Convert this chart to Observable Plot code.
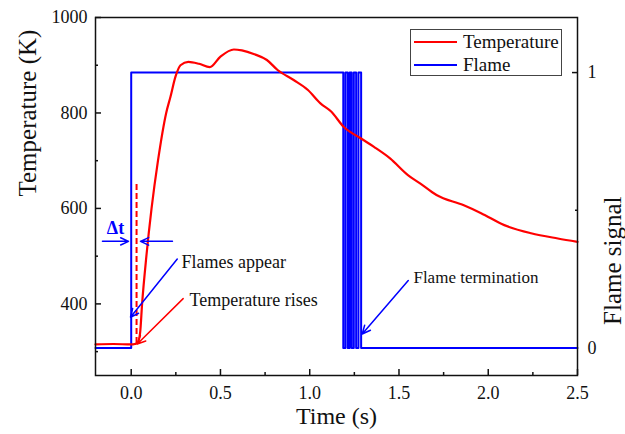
<!DOCTYPE html>
<html>
<head>
<meta charset="utf-8">
<script src="https://cdn.jsdelivr.net/npm/d3@7"></script>
<script src="https://cdn.jsdelivr.net/npm/@observablehq/plot@0.6"></script>
<style>
  body { margin: 0; background: #fff; }
  #wrap { position: relative; width: 625px; height: 434px; font-family: "Liberation Serif", "Times New Roman", serif; }
  #wrap svg, #wrap svg text { font-family: "Liberation Serif", "Times New Roman", serif !important; }
  #legend { position: absolute; left: 410px; top: 29px; width: 152px; height: 47px; border: 1px solid #444; background: #fff; box-sizing: border-box; }
  .lg { position: absolute; left: 0; height: 22px; display: flex; align-items: center; font-size: 19px; color: #111; }
  .lg span.sw { display: inline-block; width: 43px; height: 0; border-top: 2px solid; margin-left: 3px; margin-right: 6px; }
</style>
</head>
<body>
<div id="wrap"></div>
<script>
// ---- data ----
const tempTime = [-0.2, -0.1, 0, 0.02, 0.035, 0.05, 0.061, 0.085, 0.114, 0.15, 0.196, 0.22, 0.248, 0.276, 0.32, 0.38, 0.44, 0.5, 0.575, 0.62, 0.69, 0.76, 0.82, 0.91, 0.99, 1.06, 1.12, 1.19, 1.285, 1.36, 1.45, 1.55, 1.62, 1.71, 1.86, 1.96, 2.09, 2.24, 2.39, 2.5];
const tempK = [315, 316, 315, 316, 318, 340, 400, 500, 600, 700, 800, 834, 876, 900, 907, 903, 896, 918, 933, 931, 923, 911, 890, 869, 848, 820, 803, 771, 747, 729, 705, 670, 652, 628, 607, 590, 565, 548, 537, 530];

const flameTime = [-0.2, 0, 1.188, 1.20, 1.213, 1.224, 1.235, 1.247, 1.26, 1.273, 1.288, 2.5];
const flameValue = [0, 1, 0, 1, 0, 1, 0, 1, 0, 1, 0, 0];

const xMajorTicks = [0, 0.5, 1.0, 1.5, 2.0, 2.5];
const xMinorTicks = [0.25, 0.75, 1.25, 1.75, 2.25];
const yMajorTicks = [400, 600, 800, 1000];
const yMinorTicks = [300, 500, 700, 900];
const flameMajorTicks = [0, 1];
const flameMinorTicks = [0.5];

// annotations
const dashedT = [0.03];
const dashedRange = [317, 654];
const arrowX1 = [-0.161, 0.231, 0.258, 0.291, 1.552];
const arrowY1 = [531, 531, 494, 411, 449];
const arrowX2 = [-0.015, 0.052, -0.004, 0.034, 1.294];
const arrowY2 = [531, 531, 372, 316, 337];
const arrowColor = ["blue", "blue", "blue", "red", "blue"];
const noteText = ["Flames appear", "Temperature rises", "Flame termination"];
const noteX = [0.282, 0.327, 1.581];
const noteY = [487, 407, 455];
const noteSize = [18, 18, 17];

// ---- build ----
const RED = "#ff0000", BLUE = "#0000ff";
const SERIF = "'Liberation Serif', 'Times New Roman', serif";
const yDomain = [250, 1000];
const fDomain = [-0.1, 1.2];
const fToT = f => yDomain[0] + (f - fDomain[0]) / (fDomain[1] - fDomain[0]) * (yDomain[1] - yDomain[0]);

const temp = tempTime.map((t, i) => ({t, T: tempK[i]}));
const flame = flameTime.map((t, i) => ({t, T: fToT(flameValue[i])}));
const arrows = arrowX1.map((x, i) => ({x1: x, y1: arrowY1[i], x2: arrowX2[i], y2: arrowY2[i], c: arrowColor[i] === "red" ? RED : BLUE}));
const notes = noteText.map((s, i) => ({s, x: noteX[i], y: noteY[i], fs: noteSize[i]}));

const fmt1 = d3.format(".1f");
const axisStyle = {fontSize: 18, strokeWidth: 1.5, fill: "#111", fontFamily: SERIF};

const chart = Plot.plot({
  width: 625,
  height: 434,
  marginLeft: 95,
  marginRight: 48,
  marginTop: 17,
  marginBottom: 59,
  style: {fontFamily: SERIF, background: "white", color: "#111"},
  x: {domain: [-0.2, 2.5]},
  y: {domain: yDomain},
  marks: [
    Plot.axisX({ticks: xMajorTicks, tickSize: -6, tickPadding: 17, tickFormat: fmt1, label: null, ...axisStyle}),
    Plot.axisX({ticks: xMinorTicks, tickSize: -3, tickFormat: () => "", label: null, strokeWidth: 1.5}),
    Plot.axisY({ticks: yMajorTicks, tickSize: -6, tickPadding: 14, tickFormat: d3.format("d"), label: null, ...axisStyle}),
    Plot.axisY({ticks: yMinorTicks, tickSize: -3, tickFormat: () => "", label: null, strokeWidth: 1.5}),
    Plot.axisY({anchor: "right", ticks: flameMajorTicks.map(fToT), tickSize: -6, tickPadding: 16,
      tickFormat: d => String(Math.round((d - yDomain[0]) / (yDomain[1] - yDomain[0]) * (fDomain[1] - fDomain[0]) + fDomain[0])),
      label: null, ...axisStyle}),
    Plot.axisY({anchor: "right", ticks: flameMinorTicks.map(fToT), tickSize: -3, tickFormat: () => "", label: null, strokeWidth: 1.5}),
    Plot.line(flame, {x: "t", y: "T", curve: "step-after", stroke: BLUE, strokeWidth: 2}),
    Plot.line(temp, {x: "t", y: "T", curve: "monotone-x", stroke: RED, strokeWidth: 2.2}),
    Plot.ruleX(dashedT, {y1: dashedRange[0], y2: dashedRange[1], stroke: RED, strokeWidth: 2, strokeDasharray: "6,3"}),
    Plot.arrow(arrows, {x1: "x1", y1: "y1", x2: "x2", y2: "y2", stroke: "c", strokeWidth: 1.5, headLength: 9, headAngle: 50}),
    Plot.text(notes, {x: "x", y: "y", text: "s", textAnchor: "start", fontSize: d => d.fs, fill: "#111", fontFamily: SERIF}),
    Plot.text(["\u0394t"], {x: [-0.088], y: [558], fill: BLUE, fontSize: 18, fontWeight: "bold", fontFamily: SERIF}),
    Plot.text(["Time (s)"], {frameAnchor: "bottom", dy: 48, fontSize: 24, fill: "#111", fontFamily: SERIF}),
    Plot.text(["Temperature (K)"], {frameAnchor: "left", dx: -68, rotate: -90, fontSize: 25, fill: "#111", fontFamily: SERIF}),
    Plot.text(["Flame signal"], {frameAnchor: "right", dx: 35, rotate: -90, fontSize: 25, fill: "#111", fontFamily: SERIF}),
    Plot.frame({stroke: "#111", strokeWidth: 1.5})
  ]
});

const wrap = document.getElementById("wrap");
wrap.appendChild(chart);
const legend = document.createElement("div");
legend.id = "legend";
const series = [{name: "Temperature", color: RED}, {name: "Flame", color: BLUE}];
series.forEach((s, i) => {
  const row = document.createElement("div");
  row.className = "lg";
  row.style.top = (i === 0 ? 1 : 24) + "px";
  const sw = document.createElement("span");
  sw.className = "sw";
  sw.style.borderTopColor = s.color;
  row.appendChild(sw);
  row.appendChild(document.createTextNode(s.name));
  legend.appendChild(row);
});
wrap.appendChild(legend);
</script>
</body>
</html>
